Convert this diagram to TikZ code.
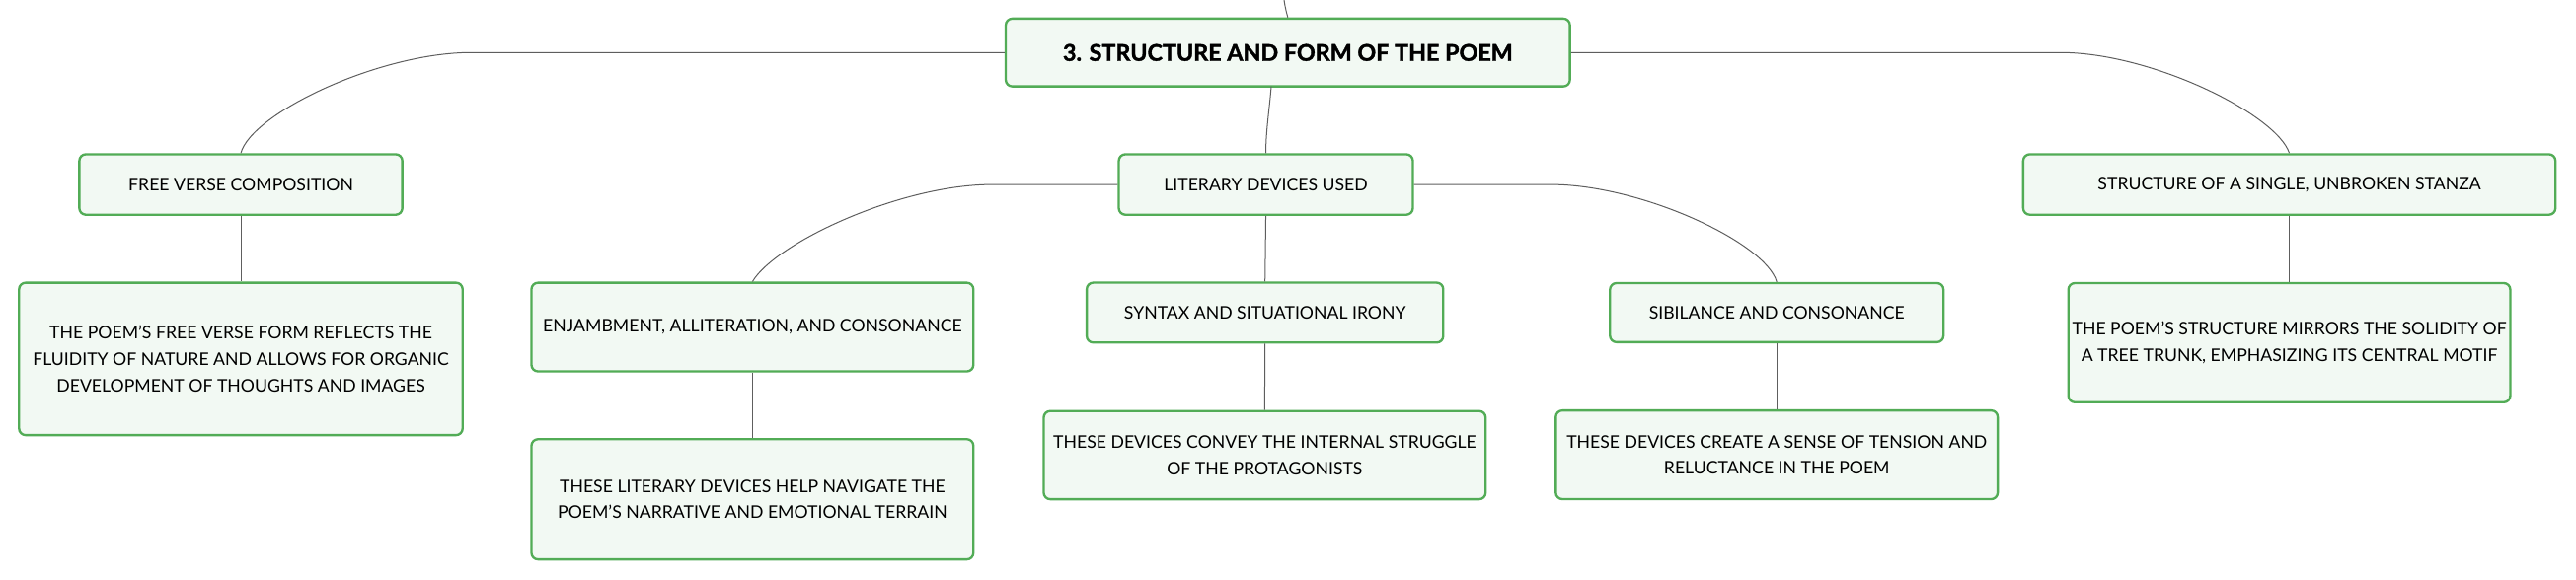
\documentclass[tikz,border=0pt]{standalone}
\usepackage{fontspec}
\setmainfont{Lato}
\newfontfamily\rootfont{Lato}[BoldFeatures={FakeBold=1.5}]
\definecolor{boxline}{HTML}{52AC56}
\definecolor{boxfill}{HTML}{F2F9F3}
\definecolor{conn}{HTML}{5E5E5E}
\tikzset{
  box/.style={draw=boxline, fill=boxfill, line width=1.4pt, rounded corners=4pt,
    align=center, inner sep=0pt, font=\fontsize{10.6}{16}\selectfont},
  rootbox/.style={box, font=\fontsize{14}{18}\selectfont\rootfont\bfseries},
  link/.style={draw=conn, line width=0.6pt},
}
\begin{document}
\begin{tikzpicture}[x=1pt,y=-1pt]
\useasboundingbox[fill=white] (0,0) rectangle (1568,353.25);
% level 0
\node[rootbox, minimum width=343.4pt, minimum height=41.3pt] (root) at (783.9,32) {3. STRUCTURE AND FORM OF THE POEM};
% level 1
\node[box, minimum width=196.6pt, minimum height=36.8pt] (fv) at (146.6,112.4) {FREE VERSE COMPOSITION};
\node[box, minimum width=179pt, minimum height=36.8pt] (ld) at (770.5,112.4) {LITERARY DEVICES USED};
\node[box, minimum width=324pt, minimum height=36.8pt] (st) at (1393.5,112.4) {STRUCTURE OF A SINGLE, UNBROKEN STANZA};
% level 2
\node[box, minimum width=270pt, minimum height=92.8pt] (fvc) at (146.6,218.6) {THE POEM’S FREE VERSE FORM REFLECTS THE\\FLUIDITY OF NATURE AND ALLOWS FOR ORGANIC\\DEVELOPMENT OF THOUGHTS AND IMAGES};
\node[box, minimum width=269pt, minimum height=54pt] (en) at (458,199.2) {ENJAMBMENT, ALLITERATION, AND CONSONANCE};
\node[box, minimum width=217pt, minimum height=36.5pt] (sy) at (770,190.4) {SYNTAX AND SITUATIONAL IRONY};
\node[box, minimum width=203pt, minimum height=36pt] (si) at (1081.5,190.4) {SIBILANCE AND CONSONANCE};
\node[box, minimum width=269pt, minimum height=72.6pt] (stc) at (1393.5,208.7) {THE POEM’S STRUCTURE MIRRORS THE SOLIDITY OF\\A TREE TRUNK, EMPHASIZING ITS CENTRAL MOTIF};
% level 3
\node[box, minimum width=269pt, minimum height=73.2pt] (enc) at (458,304.1) {THESE LITERARY DEVICES HELP NAVIGATE THE\\POEM’S NARRATIVE AND EMOTIONAL TERRAIN};
\node[box, minimum width=269pt, minimum height=53.7pt] (syc) at (769.8,277.2) {THESE DEVICES CONVEY THE INTERNAL STRUGGLE\\OF THE PROTAGONISTS};
\node[box, minimum width=269pt, minimum height=54pt] (sic) at (1081.5,277) {THESE DEVICES CREATE A SENSE OF TENSION AND\\RELUCTANCE IN THE POEM};
% connectors
\coordinate (topin) at (781.6,0);
\path[link] (topin) .. controls (782.3,5) and (783.2,8) .. (root.north);
\coordinate (rootbot) at (773.8,52.7);
\path[link] (rootbot) .. controls (772.5,68) and (770.5,80) .. (ld.north);
\coordinate (hl) at (287,32);
\coordinate (hr) at (1254,32);
\path[link] (root.west) -- (hl) .. controls (231,32) and (153,69) .. (fv.north);
\path[link] (root.east) -- (hr) .. controls (1310,32) and (1386,70) .. (st.north);
\coordinate (ldl) at (604,112.4);
\coordinate (ldr) at (944,112.4);
\path[link] (ld.west) -- (ldl) .. controls (548,112.4) and (472,148) .. (en.north);
\path[link] (ld.east) -- (ldr) .. controls (999,112.4) and (1075,148) .. (si.north);
\path[link] (ld.south) -- (sy.north);
\path[link] (fv.south) -- (fvc.north);
\path[link] (st.south) -- (stc.north);
\path[link] (en.south) -- (enc.north);
\path[link] (sy.south) -- (syc.north);
\path[link] (si.south) -- (sic.north);
\end{tikzpicture}
\end{document}
